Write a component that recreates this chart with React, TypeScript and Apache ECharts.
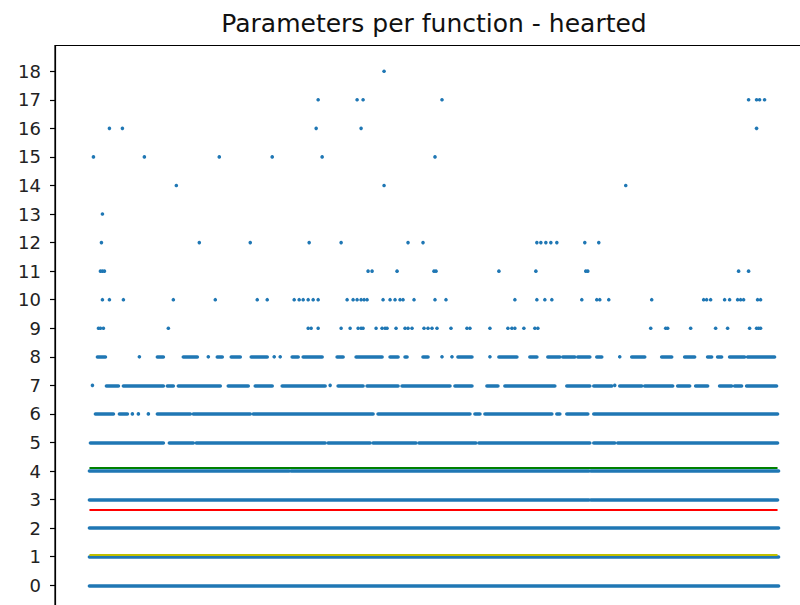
import React, { useEffect, useRef } from "react";
import * as echarts from "echarts";

const TITLE = "Parameters per function - hearted";
const Y_TICKS = [0, 1, 2, 3, 4, 5, 6, 7, 8, 9, 10, 11, 12, 13, 14, 15, 16, 17, 18];

// sparse points: function indices per parameter count
const row18 = [295];
const row17 = [229, 268, 274, 353, 660, 668, 671, 676];
const row16 = [20, 33, 227, 272, 668];
const row15 = [4, 55, 130, 183, 233, 346];
const row14 = [87, 295, 537];
const row13 = [13];
const row12 = [12, 110, 161, 220, 252, 319, 334, 448, 452, 457, 462, 468, 496, 510];
const row11 = [11, 13, 15, 279, 283, 308, 345, 347, 410, 447, 497, 499, 650, 660];
const row10 = [13, 20, 34, 84, 126, 168, 178, 205, 210, 214, 219, 224, 229, 258, 264, 268, 272, 275, 278, 294, 301, 306, 311, 314, 325, 346, 357, 426, 448, 456, 463, 493, 508, 511, 520, 563, 615, 618, 622, 636, 641, 649, 652, 655, 669, 672];
const row9 = [9, 11, 14, 79, 219, 222, 229, 252, 261, 269, 272, 274, 287, 293, 296, 298, 307, 316, 319, 323, 335, 339, 343, 348, 362, 378, 381, 401, 419, 423, 426, 435, 446, 449, 562, 577, 579, 602, 627, 639, 661, 668, 670, 672];

// dense rows: runs of consecutive functions [from, to]
const row8Runs = [[8, 16], [50, 50], [68, 74], [94, 108], [119, 119], [128, 133], [142, 151], [162, 178], [185, 185], [191, 191], [203, 209], [214, 233], [248, 254], [267, 293], [301, 309], [316, 318], [334, 339], [353, 353], [363, 363], [369, 383], [401, 401], [410, 428], [441, 448], [459, 471], [474, 486], [489, 501], [508, 513], [531, 531], [543, 556], [573, 583], [596, 606], [619, 623], [629, 633], [641, 656], [659, 686]];
const row7Runs = [[3, 3], [17, 29], [34, 74], [78, 84], [89, 131], [139, 159], [166, 183], [193, 236], [241, 241], [249, 274], [278, 309], [313, 361], [366, 383], [398, 409], [416, 466], [478, 501], [505, 523], [526, 526], [531, 553], [556, 584], [589, 601], [607, 619], [631, 643], [646, 653], [658, 688]];
const row6Runs = [[6, 24], [30, 38], [43, 43], [49, 49], [59, 59], [68, 101], [104, 161], [164, 284], [289, 381], [386, 391], [396, 463], [468, 471], [478, 499], [505, 689]];
const row5Runs = [[1, 74], [80, 104], [107, 236], [239, 281], [284, 327], [330, 387], [390, 501], [505, 526], [529, 689]];
const row4Runs = [[0, 200], [202, 500], [502, 690]];
const row3Runs = [[0, 500], [502, 689]];
const row2Runs = [[0, 690]];
const row1Runs = [[0, 690]];
const row0Runs = [[0, 690]];

// summary lines
const LINE_VALUES = [1.08, 2.64, 4.13];
const LINE_COLORS = ["#bfbf00", "#ff0000", "#008000"];
const LINE_RANGE = [0, 689];

const X_MIN = -34.5;
const X_MAX = 724.5;

export default function App() {
  const ref = useRef<HTMLDivElement>(null);

  useEffect(() => {
    if (!ref.current) return;
    const chart = echarts.init(ref.current, null, { renderer: "svg" });

    const sparseRows: [number, number[]][] = [
      [18, row18], [17, row17], [16, row16], [15, row15], [14, row14], [13, row13],
      [12, row12], [11, row11], [10, row10], [9, row9],
    ];
    const runRows: [number, number[][]][] = [
      [8, row8Runs], [7, row7Runs], [6, row6Runs], [5, row5Runs], [4, row4Runs],
      [3, row3Runs], [2, row2Runs], [1, row1Runs], [0, row0Runs],
    ];

    const points: number[][] = [];
    sparseRows.forEach(([y, xs]) => xs.forEach((x) => points.push([x, y])));
    const segs: { coords: number[][] }[] = [];
    runRows.forEach(([y, runs]) =>
      runs.forEach(([a, b]) => {
        if (b - a < 1) points.push([a, y]);
        else segs.push({ coords: [[a, y], [b, y]] });
      })
    );

    const blue = "#1f77b4";

    chart.setOption({
      animation: false,
      backgroundColor: "#ffffff",
      graphic: [
        {
          type: "text",
          x: 434,
          y: 23,
          style: {
            text: TITLE,
            textAlign: "center",
            textVerticalAlign: "middle",
            fontSize: 25,
            fontFamily: "DejaVu Sans",
            fill: "#111111",
          },
        },
      ],
      grid: {
        left: 55,
        top: 45.5,
        width: 758,
        height: 565.5,
        show: true,
        borderColor: "#000000",
        borderWidth: 1.2,
        backgroundColor: "transparent",
        outerBoundsMode: "none",
        containLabel: false,
      },
      xAxis: {
        type: "value",
        min: X_MIN,
        max: X_MAX,
        show: false,
      },
      yAxis: {
        type: "value",
        min: -0.9,
        max: 18.9,
        axisLine: { show: true, onZero: false, lineStyle: { color: "#000000", width: 1.2 } },
        axisTick: {
          show: true,
          customValues: Y_TICKS,
          length: 5,
          lineStyle: { color: "#000000", width: 1.2 },
        },
        axisLabel: {
          show: true,
          customValues: Y_TICKS,
          fontSize: 18,
          fontFamily: "DejaVu Sans",
          color: "#222222",
          margin: 14,
        },
        splitLine: { show: false },
      },
      series: [
        {
          type: "lines",
          coordinateSystem: "cartesian2d",
          silent: true,
          lineStyle: { color: blue, width: 3.6, opacity: 1, cap: "round" },
          data: segs,
          z: 2,
        },
        {
          type: "scatter",
          symbol: "circle",
          symbolSize: 3.6,
          itemStyle: { color: blue, opacity: 1 },
          data: points,
          z: 3,
        },
        ...LINE_VALUES.map((v, i) => ({
          type: "lines",
          coordinateSystem: "cartesian2d",
          silent: true,
          lineStyle: { color: LINE_COLORS[i], width: 1.8, opacity: 1 },
          data: [{ coords: [[LINE_RANGE[0], v], [LINE_RANGE[1], v]] }],
          z: 4,
        })),
      ],
    });

    return () => chart.dispose();
  }, []);

  return (
    <div
      ref={ref}
      style={{ position: "fixed", left: 0, top: 0, width: 800, height: 605, background: "#fff" }}
    />
  );
}
